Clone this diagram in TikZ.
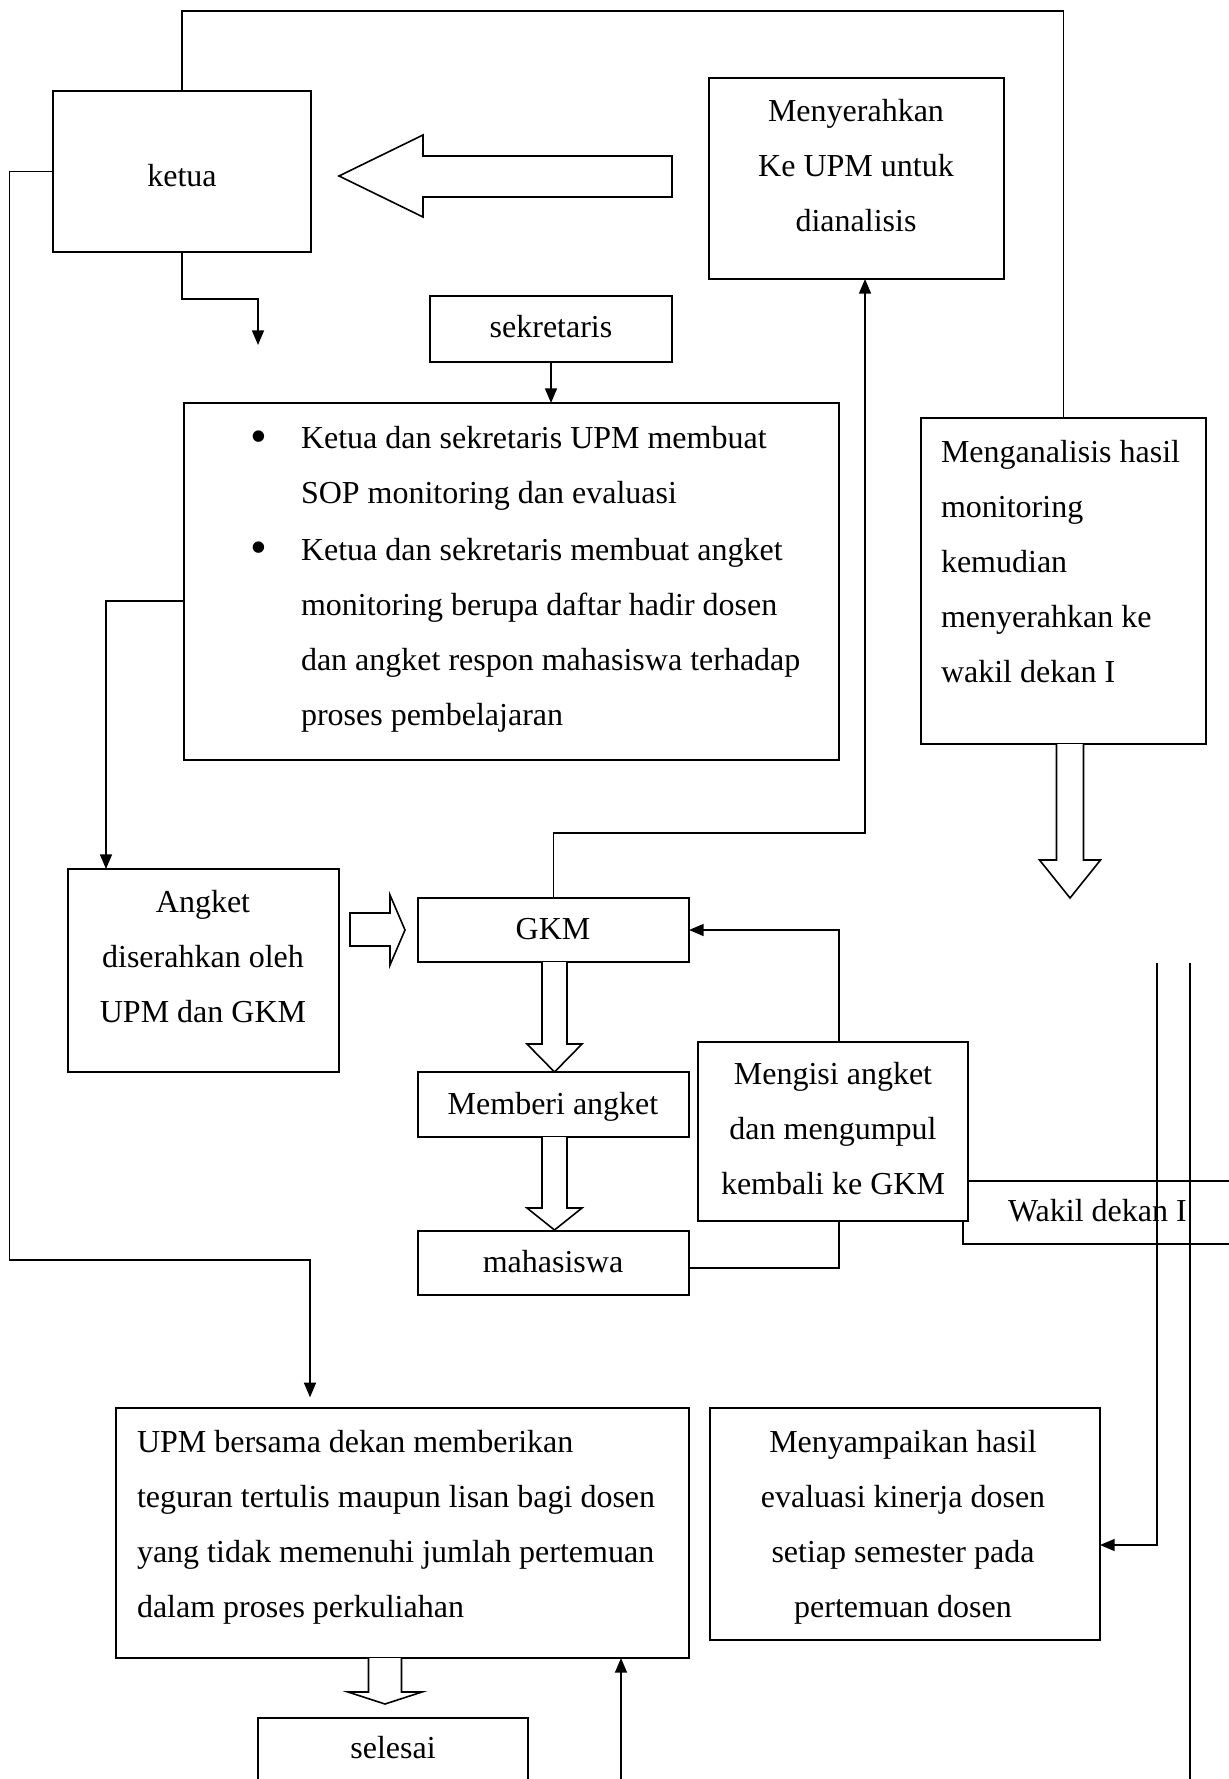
\documentclass[tikz,border=0pt]{standalone}
\usepackage{fontspec}
\usepackage{graphicx}
\setmainfont{Liberation Serif}
\usetikzlibrary{arrows.meta,fit}
\newcommand\vstr{\rule{0pt}{9pt}}
\newcommand\bigbul{\raisebox{-1.2pt}{\scalebox{1.5}{\textbullet}}}
\newcommand\mkbox[3]{\node[box, fit={#2 #3}] (#1) {};}
% hollow down arrow: cx, shaft half width, head half width, y start, y head base, y tip
\newcommand\hdown[6]{\draw[hollow] (#1-#2,#4) -- (#1-#2,#5) -- (#1-#3,#5) -- (#1,#6) -- (#1+#3,#5) -- (#1+#2,#5) -- (#1+#2,#4);}
\begin{document}
\begin{tikzpicture}[x=0.375pt,y=-0.375pt,
  box/.style={draw, line width=0.6pt, fill=white, inner sep=0pt, outer sep=0pt},
  txt/.style={inner sep=0pt, outer sep=0pt, font=\fontsize{12pt}{20.625pt}\selectfont},
  ln/.style={line width=0.6pt},
  arr/.style={ln, -{Triangle[length=5.5pt,width=4.5pt]}},
  hollow/.style={draw, line width=0.6pt, fill=white, line join=miter}]
\useasboundingbox (0,0) rectangle (1229,1779);
\clip (0,0) rectangle (1229,1779);

% ---------- boxes ----------
\mkbox{ketua}{(53,91)}{(311,252)}
\mkbox{mny}{(709,78)}{(1004,279)}
\mkbox{sek}{(430,296)}{(672,362)}
\mkbox{bul}{(184,403)}{(839,760)}
\mkbox{mgn}{(921,418)}{(1206,744)}
\mkbox{ang}{(68,869)}{(339,1072)}
\mkbox{gkm}{(418,898)}{(689,962)}
\mkbox{mbr}{(418,1072)}{(689,1137)}
\mkbox{mhs}{(418,1231)}{(689,1295)}
\mkbox{wak}{(963,1181)}{(1260,1244)}
\mkbox{mgs}{(698,1042)}{(968,1221)}
\mkbox{upm}{(116,1408)}{(689,1658)}
\mkbox{mys}{(710,1408)}{(1100,1640)}
\mkbox{sel}{(258,1718)}{(528,1800)}

% ---------- texts ----------
\node[txt, anchor=north] (ketuaT) at (182,163) {\vstr ketua};
\node[txt, anchor=north, align=center] (mnyT) at (856,98) {\vstr Menyerahkan\\Ke UPM untuk\\dianalisis};
\node[txt, anchor=north] (sekT) at (551,314) {\vstr sekretaris};
\node[txt, anchor=north] (bul1) at (259,425) {\vstr\bigbul};
\node[txt, anchor=north west, align=left] (bulT1) at (301,425) {\vstr Ketua dan sekretaris UPM membuat\\SOP monitoring dan evaluasi};
\node[txt, anchor=north] (bul2) at (259,536) {\vstr\bigbul};
\node[txt, anchor=north west, align=left] (bulT2) at (301,536) {\vstr Ketua dan sekretaris membuat angket\\monitoring berupa daftar hadir dosen\\dan angket respon mahasiswa terhadap\\proses pembelajaran};
\node[txt, anchor=north west, align=left] (mgnT) at (941,438) {\vstr Menganalisis hasil\\monitoring\\kemudian\\menyerahkan ke\\wakil dekan I};
\node[txt, anchor=north, align=center] (angT) at (203,888) {\vstr Angket\\diserahkan oleh\\UPM dan GKM};
\node[txt, anchor=north] (gkmT) at (553,915) {\vstr GKM};
\node[txt, anchor=north] (mbrT) at (553,1090) {\vstr Memberi angket};
\node[txt, anchor=north] (mhsT) at (553,1248) {\vstr mahasiswa};
\node[txt, anchor=north, align=center] (mgsT) at (833,1060) {\vstr Mengisi angket\\dan mengumpul\\kembali ke GKM};
\node[txt, anchor=north west] (wakT) at (1008,1197) {\vstr Wakil dekan I};
\node[txt, anchor=north west, align=left] (upmT) at (137,1428) {\vstr UPM bersama dekan memberikan\\teguran tertulis maupun lisan bagi dosen\\yang tidak memenuhi jumlah pertemuan\\dalam proses perkuliahan};
\node[txt, anchor=north, align=center] (mysT) at (903,1428) {\vstr Menyampaikan hasil\\evaluasi kinerja dosen\\setiap semester pada\\pertemuan dosen};
\node[txt, anchor=north] (selT) at (393,1734) {\vstr selesai};

% ---------- hollow block arrows ----------
\draw[hollow] (672,156) -- (423,156) -- (423,135) -- (339,176) -- (423,217) -- (423,197) -- (672,197) -- cycle;
\draw[hollow] (350,913) -- (390,913) -- (390,895) -- (405,930) -- (390,965) -- (390,946) -- (350,946) -- cycle;
\hdown{1070}{13.5}{30.5}{744}{860}{898}
\hdown{554.5}{12.5}{27.5}{962}{1044}{1072}
\hdown{554.5}{12.5}{27.5}{1137}{1208}{1230}
\hdown{385}{16.5}{37}{1658}{1692}{1704}

% ---------- connectors ----------
\coordinate (topY) at (0,11);
\draw[ln] (ketua.north) -- (ketua.north |- topY) -| (mgn.north);

\coordinate (k1) at (9.5,1260);
\coordinate (k2) at (310,1260);
\draw[arr, shorten >=4pt] (ketua.west) -| (k1) -- (k2) -- (k2 |- upm.north);

\coordinate (kb) at (258,299);
\coordinate (kEnd) at (258,345);
\draw[arr] (ketua.south) |- (kb) -- (kEnd);

\draw[arr] (sek.south) -- (sek.south |- bul.north);

\coordinate (b1) at (106,601);
\draw[arr] (b1 -| bul.west) -- (b1) -- (b1 |- ang.north);

\coordinate (g1) at (865,833);
\draw[arr] (gkm.north) |- (g1) -- (g1 |- mny.south);

\coordinate (m1) at (839,1268);
\draw[ln] (m1 -| mhs.east) -- (m1) -- (m1 |- mgs.south);
\draw[arr] (m1 |- mgs.north) |- (gkm.east);

\coordinate (v1) at (1157,963);
\coordinate (v1b) at (1157,1545);
\draw[arr] (v1) -- (v1b) -- (v1b -| mys.east);
\coordinate (v2) at (1190,963);
\coordinate (v2b) at (1190,1800);
\draw[ln] (v2) -- (v2b);

\coordinate (u1) at (621,1800);
\draw[arr] (u1) -- (u1 |- upm.south);
\end{tikzpicture}
\end{document}
